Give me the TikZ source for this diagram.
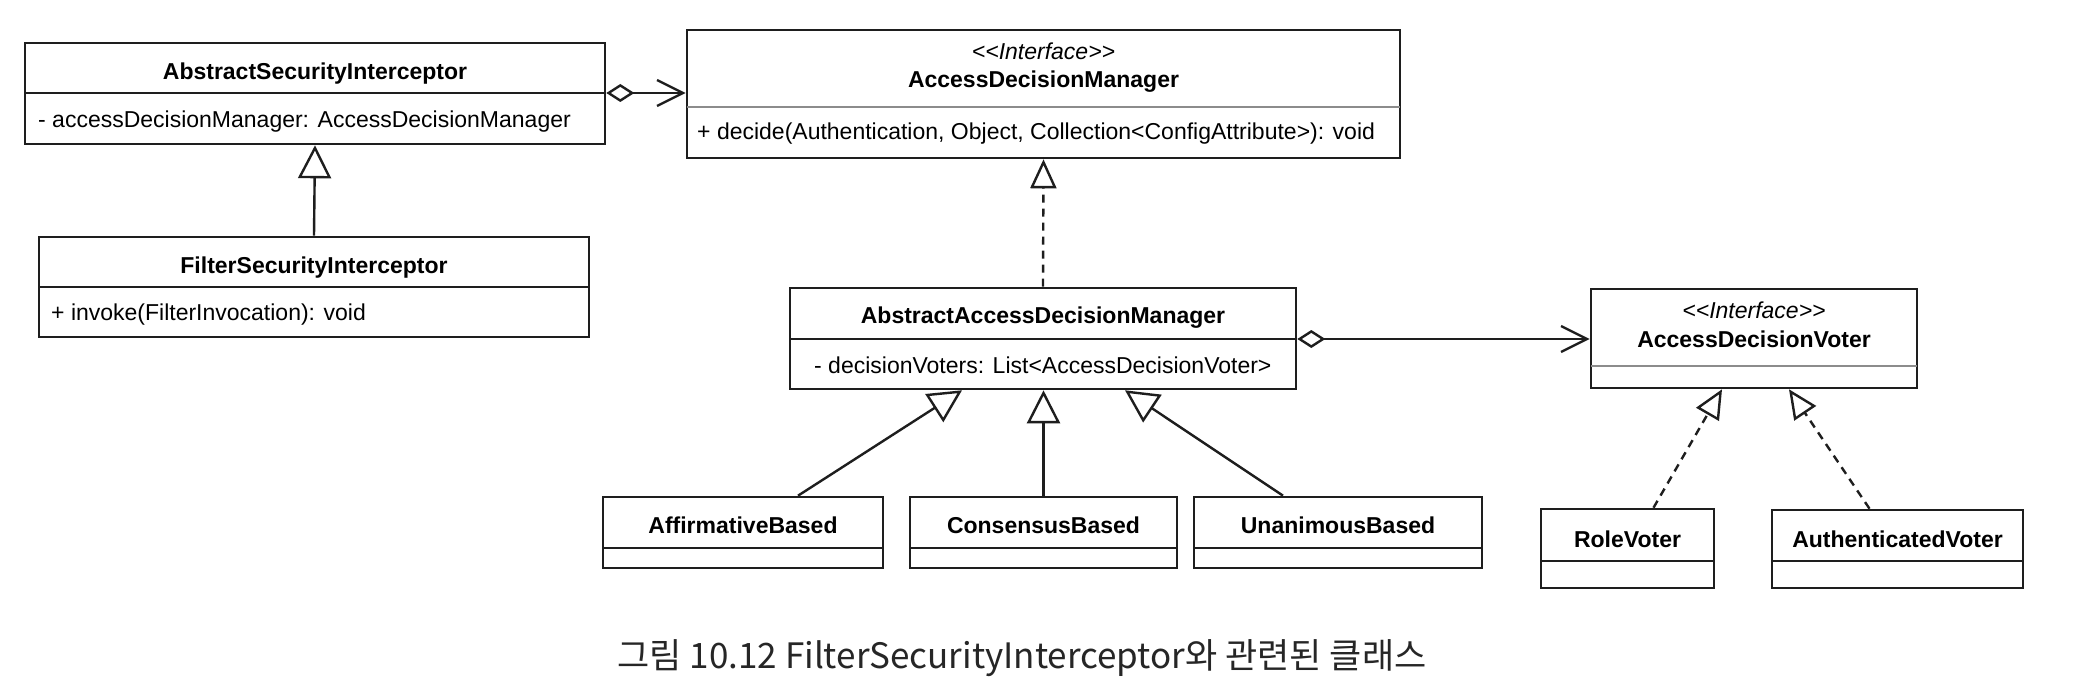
\documentclass[tikz,border=0pt]{standalone}
\usepackage{fontspec}
\setmainfont{Liberation Sans}
\newfontfamily\krfont{Noto Sans CJK KR}
\usetikzlibrary{arrows.meta,fit,calc}
\definecolor{linec}{HTML}{1E1E1E}
\definecolor{divgray}{HTML}{8C8C8C}
% #1 name, #2 left, #3 top, #4 right, #5 bottom, #6 divider y, #7 divider style
\newcommand\umlcls[7]{%
  \coordinate (#1-nw) at (#2,#3);
  \coordinate (#1-se) at (#4,#5);
  \node[umlbox, fit=(#1-nw)(#1-se)] (#1) {};
  \coordinate (#1-dw) at (#2,#6);
  \coordinate (#1-de) at (#4,#6);
  \draw[#7] (#1-dw) -- (#1-de);
}
\newcommand\stereoIF{\textless\kern0pt\textless\kern0pt Interface\kern0pt\textgreater\kern0pt\textgreater}
\tikzset{
  umlbox/.style={draw=linec, line width=2.6pt, inner sep=0pt},
  divl/.style={draw=linec, line width=2.4pt},
  idivl/.style={draw=divgray, line width=2pt},
  ttl/.style={font=\fontsize{23}{28}\selectfont\bfseries, anchor=base, inner sep=0pt, text=black},
  ster/.style={font=\fontsize{23}{28}\selectfont\itshape, anchor=base, inner sep=0pt, text=black},
  att/.style={font=\fontsize{23}{28}\selectfont, anchor=base west, inner sep=0pt, text=black},
  captxt/.style={font=\krfont\fontsize{35}{40}\selectfont, anchor=base, inner sep=0pt, text=black!85},
  conn/.style={draw=linec, line width=2.4pt},
  gen/.style={conn, -{Triangle[open, length=33pt, width=33pt, line width=2.4pt]}},
  real/.style={conn, dash pattern=on 8pt off 6pt, -{Triangle[open, length=29pt, width=26pt, line width=2.4pt]}},
  agg/.style={conn, {Diamond[open, length=28pt, width=18pt, line width=2.4pt]}-{Straight Barb[length=26pt, width=26pt, line width=2.4pt]}},
}
\begin{document}
\begin{tikzpicture}[x=1pt, y=-1pt]
\useasboundingbox[fill=white] (0,0) rectangle (2087,695);

% classes
\umlcls{asi}{25}{43}{605}{144}{93}{divl}
\node[ttl] (asi-t) at (315,80) {AbstractSecurityInterceptor};
\node[att] (asi-a) at (38,128) {- accessDecisionManager: AccessDecisionManager};

\umlcls{fsi}{39}{237}{589}{337}{287}{divl}
\node[ttl] (fsi-t) at (314,273) {FilterSecurityInterceptor};
\node[att] (fsi-m) at (51,320) {+ invoke(FilterInvocation): void};

\umlcls{adm}{687}{30}{1400}{158}{107}{idivl}
\node[ster] (adm-s) at (1043.5,60) {\stereoIF};
\node[ttl] (adm-t) at (1043.5,88) {AccessDecisionManager};
\node[att] (adm-m) at (697,140) {+ decide(Authentication, Object, Collection\textless ConfigAttribute\textgreater): void};

\umlcls{aadm}{790}{288}{1296}{389}{339}{divl}
\node[ttl] (aadm-t) at (1043,323) {AbstractAccessDecisionManager};
\node[att] (aadm-a) at (814,373) {- decisionVoters: List\textless AccessDecisionVoter\textgreater};

\umlcls{adv}{1591}{289}{1917}{388}{366}{idivl}
\node[ster] (adv-s) at (1754,318) {\stereoIF};
\node[ttl] (adv-t) at (1754,347) {AccessDecisionVoter};

\umlcls{aff}{603}{497}{883}{568}{548}{divl}
\node[ttl] (aff-t) at (743,533) {AffirmativeBased};
\umlcls{con}{910}{497}{1177}{568}{548}{divl}
\node[ttl] (con-t) at (1043.5,533) {ConsensusBased};
\umlcls{una}{1194}{497}{1482}{568}{548}{divl}
\node[ttl] (una-t) at (1338,533) {UnanimousBased};

\umlcls{rv}{1541}{509}{1714}{588}{561}{divl}
\node[ttl] (rv-t) at (1627.5,547) {RoleVoter};
\umlcls{av}{1772}{510}{2023}{588}{561}{divl}
\node[ttl] (av-t) at (1897.5,547) {AuthenticatedVoter};

% connectors
\draw[agg] (asi.east |- asi-dw) -- (adm.west |- asi-dw);
\draw[agg] (aadm.east |- aadm-dw) -- (adv.west |- aadm-dw);
\draw[gen] (fsi.north) -- (asi.south);
\draw[real] (aadm.north) -- (adm.south);
\draw[gen] ($(aff.north)+(55,0)$) -- ($(aadm.south)+(-81,0)$);
\draw[gen] (con.north) -- (con.north |- aadm.south);
\draw[gen] ($(una.north)+(-55,0)$) -- ($(aadm.south)+(82,0)$);
\draw[real] ($(rv.north)+(26,0)$) -- ($(adv.south)+(-32,0)$);
\draw[real] ($(av.north)+(-28,0)$) -- ($(adv.south)+(35,0)$);

% caption
\node[captxt] (captext) at (1022,668) {그림 10.12 FilterSecurityInterceptor와 관련된 클래스};
\end{tikzpicture}
\end{document}
